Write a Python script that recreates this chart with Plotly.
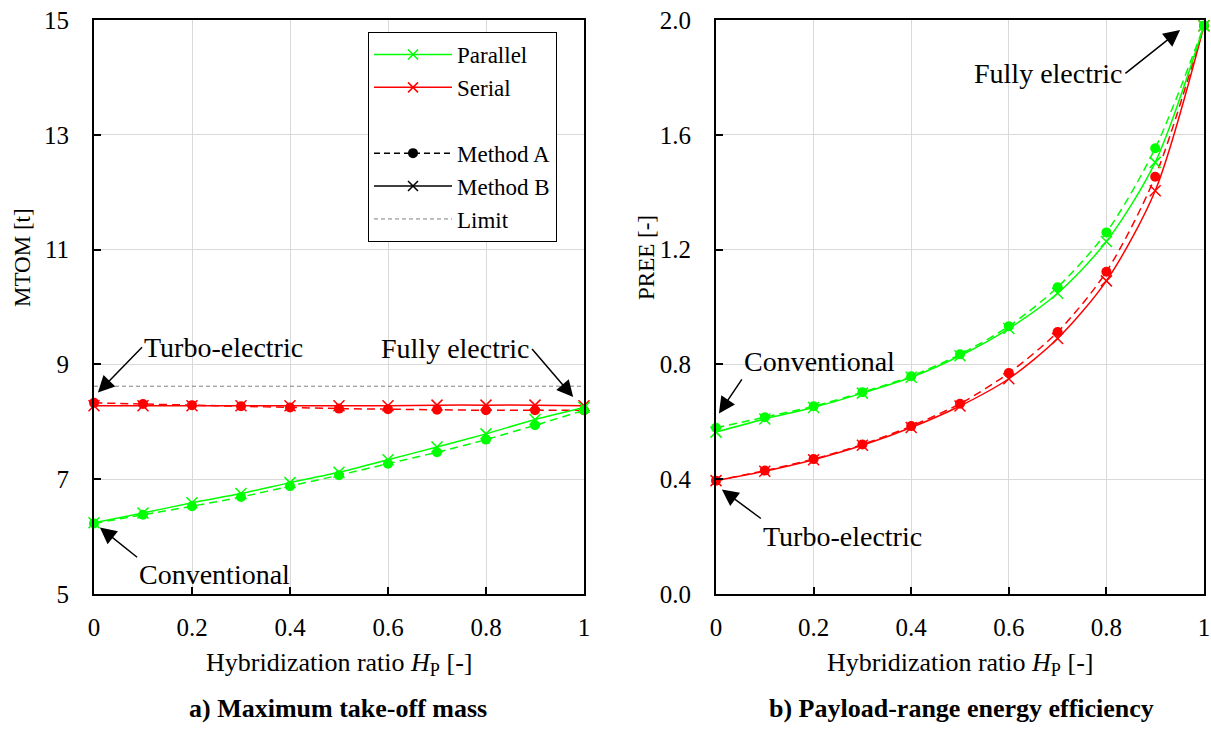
import plotly.graph_objects as go

# ---------------- data ----------------
hp = [0.0, 0.1, 0.2, 0.3, 0.4, 0.5, 0.6, 0.7, 0.8, 0.9, 1.0]
hp_ticks = [0, 0.2, 0.4, 0.6, 0.8, 1]
hp_ticktext = ["0", "0.2", "0.4", "0.6", "0.8", "1"]

# a) MTOM [t]
mtom_par_A = [6.23, 6.38, 6.53, 6.69, 6.88, 7.07, 7.27, 7.47, 7.69, 7.94, 8.20]
mtom_par_B = [6.24, 6.41, 6.59, 6.75, 6.94, 7.12, 7.34, 7.56, 7.79, 8.04, 8.25]
mtom_ser_A = [8.33, 8.31, 8.29, 8.27, 8.25, 8.23, 8.22, 8.21, 8.20, 8.20, 8.20]
mtom_ser_B = [8.28, 8.28, 8.28, 8.28, 8.28, 8.28, 8.28, 8.29, 8.29, 8.29, 8.28]
mtom_limit = 8.62
mtom_ticks = [5, 7, 9, 11, 13, 15]

# b) PREE [-]
pree_par_A = [0.579, 0.616, 0.654, 0.703, 0.759, 0.835, 0.933, 1.069, 1.260, 1.553, 1.98]
pree_par_B = [0.564, 0.610, 0.650, 0.700, 0.755, 0.830, 0.925, 1.048, 1.228, 1.504, 1.98]
pree_ser_A = [0.395, 0.430, 0.470, 0.521, 0.585, 0.663, 0.770, 0.913, 1.123, 1.454, 1.98]
pree_ser_B = [0.395, 0.428, 0.468, 0.518, 0.580, 0.655, 0.750, 0.890, 1.091, 1.405, 1.98]
pree_ticks = [0.0, 0.4, 0.8, 1.2, 1.6, 2.0]

GREEN = "#00ff00"
RED = "#ff0000"
FONT = "Times New Roman, Liberation Serif, serif"

fig = go.Figure()


def add_series(xa, ya, y, color, method):
    if method == "A":
        fig.add_trace(go.Scatter(
            x=hp, y=y, xaxis=xa, yaxis=ya, mode="lines+markers",
            line=dict(color=color, width=1.5, dash="8px,5px", shape="spline", smoothing=0.8),
            marker=dict(symbol="circle", size=10, color=color),
            showlegend=False, cliponaxis=False, hoverinfo="x+y"))
    else:
        fig.add_trace(go.Scatter(
            x=hp, y=y, xaxis=xa, yaxis=ya, mode="lines+markers",
            line=dict(color=color, width=1.5, shape="spline", smoothing=0.8),
            marker=dict(symbol="x-thin", size=11, color=color,
                        line=dict(color=color, width=1.5)),
            showlegend=False, cliponaxis=False, hoverinfo="x+y"))


# limit line
fig.add_trace(go.Scatter(x=[hp[0], hp[-1]], y=[mtom_limit, mtom_limit], xaxis="x", yaxis="y",
                         mode="lines", line=dict(color="#808080", width=1, dash="4px,3px"),
                         showlegend=False, hoverinfo="skip"))

add_series("x", "y", mtom_ser_A, RED, "A")
add_series("x", "y", mtom_ser_B, RED, "B")
add_series("x", "y", mtom_par_A, GREEN, "A")
add_series("x", "y", mtom_par_B, GREEN, "B")

add_series("x2", "y2", pree_ser_A, RED, "A")
add_series("x2", "y2", pree_ser_B, RED, "B")
add_series("x2", "y2", pree_par_A, GREEN, "A")
add_series("x2", "y2", pree_par_B, GREEN, "B")


# legend-only entries
def legend_entry(name, color, dash, symbol, lw=1.5):
    m = dict(symbol=symbol, size=10, color=color)
    if symbol == "x-thin":
        m["line"] = dict(color=color, width=1.5)
    fig.add_trace(go.Scatter(x=[None], y=[None], xaxis="x", yaxis="y",
                             mode="lines+markers" if symbol else "lines",
                             line=dict(color=color, width=lw, dash=dash),
                             marker=m if symbol else None, name=name))


legend_entry("Parallel", GREEN, "solid", "x-thin")
legend_entry("Serial", RED, "solid", "x-thin")
legend_entry(" ", "rgba(0,0,0,0)", "solid", None)
legend_entry("Method A", "black", "6px,4px", "circle")
legend_entry("Method B", "black", "solid", "x-thin")
legend_entry("Limit", "#808080", "4px,3px", None, lw=1)

W, H = 1211, 750
axis_common = dict(showline=True, linecolor="black", linewidth=2, mirror=True,
                   ticks="inside", ticklen=7, tickcolor="black", tickwidth=1.5,
                   showgrid=True, gridcolor="#d9d9d9", gridwidth=1, zeroline=False,
                   automargin=False,
                   tickfont=dict(family=FONT, size=25, color="black"))

fig.update_layout(
    width=W, height=H, margin=dict(l=0, r=0, t=0, b=0, pad=0, autoexpand=False),
    paper_bgcolor="white", plot_bgcolor="white",
    font=dict(family=FONT, size=25, color="black"),
    xaxis=dict(domain=[94 / W, 584 / W], range=[0, 1], tickvals=hp_ticks,
               ticktext=hp_ticktext, anchor="y", ticklabelstandoff=10, **axis_common),
    yaxis=dict(domain=[1 - 594 / H, 1 - 20 / H], range=[5, 15], tickvals=mtom_ticks,
               anchor="x", ticklabelstandoff=18, **axis_common),
    xaxis2=dict(domain=[716 / W, 1204 / W], range=[0, 1], tickvals=hp_ticks,
                ticktext=hp_ticktext, anchor="y2", ticklabelstandoff=10, **axis_common),
    yaxis2=dict(domain=[1 - 594 / H, 1 - 20 / H], range=[0, 2], tickvals=pree_ticks,
                tickformat=".1f", anchor="x2", ticklabelstandoff=18, **axis_common),
    legend=dict(x=368 / W, y=1 - 32 / H, xanchor="left", yanchor="top",
                bgcolor="white", bordercolor="black", borderwidth=1,
                font=dict(family=FONT, size=23, color="black"),
                itemwidth=78, tracegroupgap=0, entrywidth=130),
    showlegend=True,
)

ann = []
# axis titles
xlab = "Hybridization ratio <i>H</i><sub>P</sub> [-]"
ann.append(dict(xref="paper", yref="paper", x=339 / W, y=1 - 664 / H, text=xlab,
                xanchor="center", yanchor="middle", showarrow=False, font=dict(size=26)))
ann.append(dict(xref="paper", yref="paper", x=960 / W, y=1 - 664 / H, text=xlab,
                xanchor="center", yanchor="middle", showarrow=False, font=dict(size=26)))
ann.append(dict(xref="paper", yref="paper", x=22 / W, y=1 - 258 / H, text="MTOM [t]",
                xanchor="center", yanchor="middle",
                textangle=-90, showarrow=False, font=dict(size=23)))
ann.append(dict(xref="paper", yref="paper", x=646 / W, y=1 - 258 / H, text="PREE [-]",
                xanchor="center", yanchor="middle",
                textangle=-90, showarrow=False, font=dict(size=23)))
# captions
ann.append(dict(xref="paper", yref="paper", x=338 / W, y=1 - 708 / H,
                xanchor="center", yanchor="middle",
                text="<b>a) Maximum take-off mass</b>", showarrow=False, font=dict(size=26)))
ann.append(dict(xref="paper", yref="paper", x=962 / W, y=1 - 708 / H,
                xanchor="center", yanchor="middle",
                text="<b>b) Payload-range energy efficiency</b>", showarrow=False, font=dict(size=26)))


def callout(xa, ya, text, tail, tip, xanchor, yanchor):
    ann.append(dict(xref=xa, yref=ya, axref=xa, ayref=ya,
                    x=tip[0], y=tip[1], ax=tail[0], ay=tail[1],
                    text=text, xanchor=xanchor, yanchor=yanchor,
                    showarrow=True, arrowhead=2, arrowsize=2.2, arrowwidth=1.5,
                    arrowcolor="black", font=dict(size=28)))


# left annotations (tail, tip in data coordinates)
callout("x", "y", "Turbo-electric", (0.098, 9.30), (0.008, 8.51), "left", "middle")
callout("x", "y", "Fully electric", (0.894, 9.27), (0.978, 8.43), "right", "middle")
callout("x", "y", "Conventional", (0.088, 5.64), (0.012, 6.16), "left", "top")

# right annotations
callout("x2", "y2", "Fully electric", (0.839, 1.814), (0.951, 1.965), "right", "middle")
callout("x2", "y2", "Conventional", (0.053, 0.748), (0.006, 0.629), "left", "bottom")
callout("x2", "y2", "Turbo-electric", (0.092, 0.263), (0.012, 0.364), "left", "top")

fig.update_layout(annotations=ann)

fig.write_html("out.html", config={"displayModeBar": False},
               post_script="document.body.style.margin='0';document.body.style.overflow='hidden';")
